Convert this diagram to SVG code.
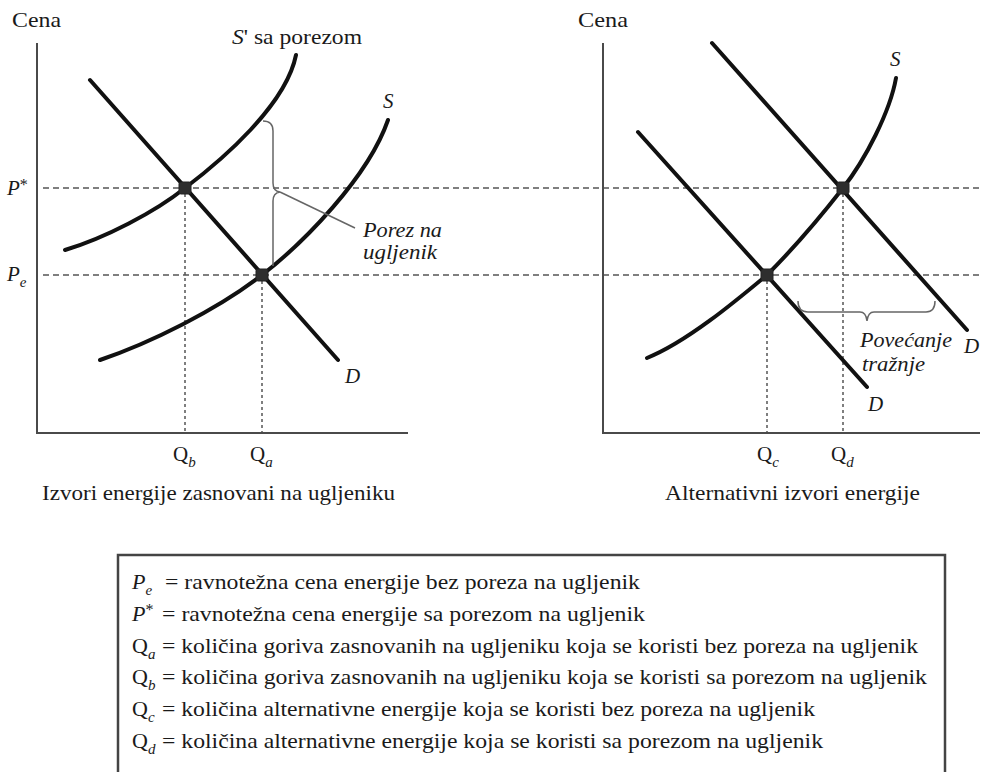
<svg xmlns="http://www.w3.org/2000/svg" width="990" height="772" viewBox="0 0 990 772" font-family="'Liberation Serif', 'DejaVu Serif', serif">
<style>
  text { font-family: 'Liberation Serif', 'DejaVu Serif', serif; fill: #1a1a1a; }
  .lbl { font-size: 21px; }
  .it { font-style: italic; }
  .sub { font-size: 15px; font-style: italic; }
  .axis { stroke: #4a4a4a; stroke-width: 2; fill: none; }
  .curve { stroke: #111; stroke-width: 4; fill: none; stroke-linecap: round; }
  .hdash { stroke: #555; stroke-width: 1.5; stroke-dasharray: 6 4; fill: none; }
  .vdot { stroke: #555; stroke-width: 1.5; stroke-dasharray: 3 3; fill: none; }
  .brace { stroke: #666; stroke-width: 1.5; fill: none; }
  .eq { fill: #2e2e2e; stroke: #222; stroke-width: 1; }
  .leg { font-size: 22px; }
</style>
<rect width="990" height="772" fill="#ffffff"/>

<!-- reference lines -->
<g id="guides">
  <line class="hdash" x1="43" y1="188" x2="980" y2="188"/>
  <line class="hdash" x1="43" y1="275" x2="980" y2="275"/>
  <line class="vdot" x1="185" y1="194" x2="185" y2="433"/>
  <line class="vdot" x1="262" y1="281" x2="262" y2="433"/>
  <line class="vdot" x1="767" y1="281" x2="767" y2="433"/>
  <line class="vdot" x1="843" y1="194" x2="843" y2="433"/>
</g>

<!-- left chart -->
<g id="left-axes">
  <line class="axis" x1="37" y1="43" x2="37" y2="433"/>
  <line class="axis" x1="36" y1="433" x2="408" y2="433"/>
  <text class="lbl" font-family="'Liberation Serif', 'DejaVu Serif', serif" x="12" y="27" textLength="49" lengthAdjust="spacingAndGlyphs">Cena</text>
</g>
<g id="left-curves">
  <path id="S-prime" class="curve" d="M65,250 C105,238 155,212 185,188 C222,160 286,105 296,55"/>
  <path id="S-left" class="curve" d="M100,360 C150,343 217,310 262,275 C302,244 368,178 388,120"/>
  <path id="D-left" class="curve" d="M90,80 L338,360"/>
</g>
<g id="left-brace">
  <path class="brace" d="M263,121 Q273,121 273,131 L273,183 Q273,191 280,192 Q273,193 273,201 L273,266"/>
  <line class="brace" x1="280" y1="192" x2="355" y2="228"/>
</g>
<g id="left-points">
  <rect class="eq" x="179" y="182" width="12" height="12" rx="2"/>
  <rect class="eq" x="256" y="269" width="12" height="12" rx="2"/>
</g>
<g id="left-labels" font-family="'Liberation Serif', 'DejaVu Serif', serif">
  <text class="lbl" x="232" y="44" textLength="130" lengthAdjust="spacingAndGlyphs"><tspan class="it">S</tspan>' sa porezom</text>
  <text class="lbl it" x="383" y="108">S</text>
  <text class="lbl it" x="345" y="383">D</text>
  <text class="lbl" x="7" y="195"><tspan class="it">P</tspan><tspan font-size="16" dy="-5">*</tspan></text>
  <text class="lbl" x="7" y="281"><tspan class="it">P</tspan><tspan class="sub" dy="6">e</tspan></text>
  <text class="lbl it" x="363" y="237" textLength="79" lengthAdjust="spacingAndGlyphs">Porez na</text>
  <text class="lbl it" x="363" y="259" textLength="74" lengthAdjust="spacingAndGlyphs">ugljenik</text>
  <text class="lbl" x="173" y="461">Q<tspan class="sub" dy="6">b</tspan></text>
  <text class="lbl" x="250" y="461">Q<tspan class="sub" dy="6">a</tspan></text>
  <text class="lbl" x="42" y="500" textLength="353" lengthAdjust="spacingAndGlyphs">Izvori energije zasnovani na ugljeniku</text>
</g>

<!-- right chart -->
<g id="right-axes">
  <line class="axis" x1="603" y1="43" x2="603" y2="433"/>
  <line class="axis" x1="602" y1="433" x2="980" y2="433"/>
  <text class="lbl" font-family="'Liberation Serif', 'DejaVu Serif', serif" x="578" y="27" textLength="50" lengthAdjust="spacingAndGlyphs">Cena</text>
</g>
<g id="right-curves">
  <path id="S-right" class="curve" d="M647,358 C687,342 737,300 767,275 C792,250 818,220 843,188 C865,160 890,112 896,78"/>
  <path id="D1-right" class="curve" d="M638,132 L867,387"/>
  <path id="D2-right" class="curve" d="M712,43 L967,330"/>
</g>
<g id="right-brace">
  <path class="brace" d="M798,301 Q798,312 808,312 L860,312 Q866,312 867,321 Q868,312 874,312 L926,312 Q935,312 935,301"/>
</g>
<g id="right-points">
  <rect class="eq" x="761" y="269" width="12" height="12" rx="2"/>
  <rect class="eq" x="837" y="182" width="12" height="12" rx="2"/>
</g>
<g id="right-labels" font-family="'Liberation Serif', 'DejaVu Serif', serif">
  <text class="lbl it" x="890" y="66">S</text>
  <text class="lbl it" x="964" y="353">D</text>
  <text class="lbl it" x="868" y="411">D</text>
  <text class="lbl it" x="860" y="347" textLength="92" lengthAdjust="spacingAndGlyphs">Povećanje</text>
  <text class="lbl it" x="862" y="371" textLength="63" lengthAdjust="spacingAndGlyphs">tražnje</text>
  <text class="lbl" x="757" y="461">Q<tspan class="sub" dy="6">c</tspan></text>
  <text class="lbl" x="831" y="461">Q<tspan class="sub" dy="6">d</tspan></text>
  <text class="lbl" x="665" y="500" textLength="255" lengthAdjust="spacingAndGlyphs">Alternativni izvori energije</text>
</g>

<!-- legend -->
<g id="legend" font-family="'Liberation Serif', 'DejaVu Serif', serif">
  <rect x="118" y="555" width="827" height="240" fill="none" stroke="#444" stroke-width="2.5"/>
  <text class="leg" x="132" y="589"><tspan class="it">P</tspan><tspan class="sub" dy="6">e</tspan></text>
  <text class="leg" x="165" y="589" textLength="475" lengthAdjust="spacingAndGlyphs">= ravnotežna cena energije bez poreza na ugljenik</text>
  <text class="leg" x="132" y="621"><tspan class="it">P</tspan><tspan font-size="16" dy="-6">*</tspan></text>
  <text class="leg" x="162" y="621" textLength="483" lengthAdjust="spacingAndGlyphs">= ravnotežna cena energije sa porezom na ugljenik</text>
  <text class="leg" x="132" y="653">Q<tspan class="sub" dy="6">a</tspan></text>
  <text class="leg" x="162" y="653" textLength="756" lengthAdjust="spacingAndGlyphs">= količina goriva zasnovanih na ugljeniku koja se koristi bez poreza na ugljenik</text>
  <text class="leg" x="132" y="684">Q<tspan class="sub" dy="6">b</tspan></text>
  <text class="leg" x="162" y="684" textLength="765" lengthAdjust="spacingAndGlyphs">= količina goriva zasnovanih na ugljeniku koja se koristi sa porezom na ugljenik</text>
  <text class="leg" x="132" y="716">Q<tspan class="sub" dy="6">c</tspan></text>
  <text class="leg" x="162" y="716" textLength="653" lengthAdjust="spacingAndGlyphs">= količina alternativne energije koja se koristi bez poreza na ugljenik</text>
  <text class="leg" x="132" y="748">Q<tspan class="sub" dy="6">d</tspan></text>
  <text class="leg" x="162" y="748" textLength="661" lengthAdjust="spacingAndGlyphs">= količina alternativne energije koja se koristi sa porezom na ugljenik</text>
</g>
</svg>
